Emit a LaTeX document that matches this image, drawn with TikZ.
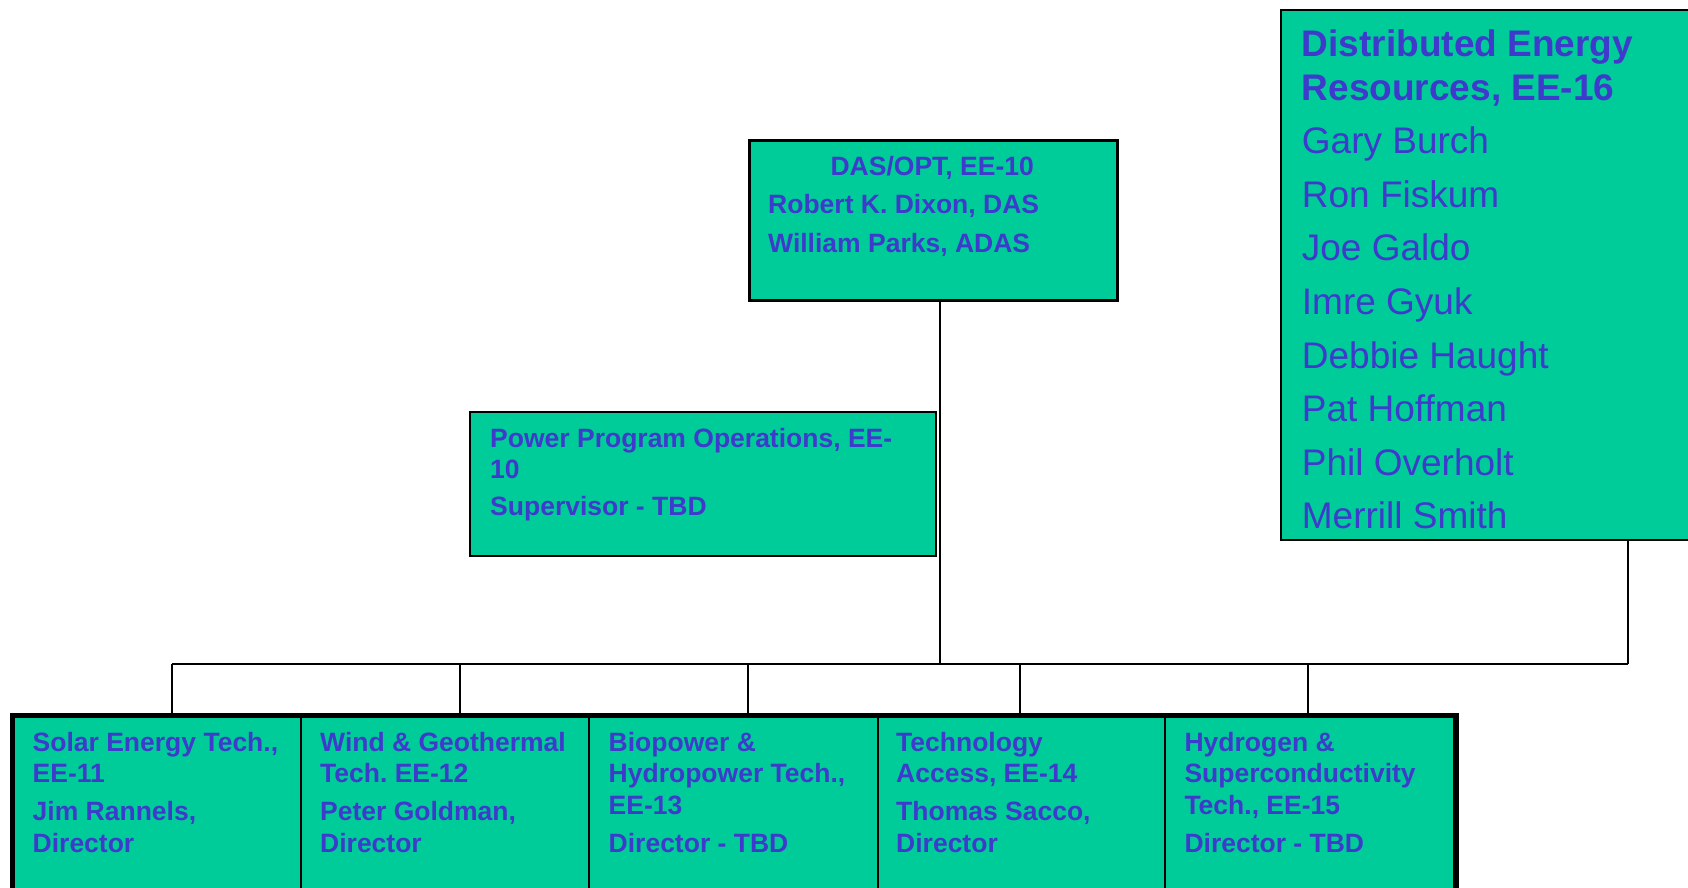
\documentclass[tikz,border=0pt]{standalone}
\usepackage{fontspec}
\setmainfont{Liberation Sans}
\definecolor{boxfill}{RGB}{0,204,153}
\definecolor{txtblue}{RGB}{61,58,204}
\begin{document}
\begin{tikzpicture}[x=1pt,y=-1pt,
  boxshape/.style={draw=black,fill=boxfill,rectangle,inner sep=0pt,anchor=north west},
  bodytext/.style={anchor=north west,inner sep=0pt,align=left,text=txtblue,
    font=\fontsize{26.5}{31.5}\selectfont\bfseries},
  dertext/.style={anchor=north west,inner sep=0pt,align=left,text=txtblue,
    font=\fontsize{37}{43.6}\selectfont},
  conn/.style={draw=black,line width=2pt}]
\useasboundingbox (0,0) rectangle (1688,888);

% top box
\node[boxshape,line width=2.7pt,minimum width=368pt,minimum height=160pt] (top) at (748,139) {};
\node[bodytext] (toptxt) at (768,156) {\makebox[328pt][c]{DAS/OPT, EE-10}\\[6.8pt]Robert K.\ Dixon, DAS\\[6.8pt]William Parks, ADAS};

% power program box
\node[boxshape,line width=2.3pt,minimum width=466pt,minimum height=144pt] (pp) at (469,411) {};
\node[bodytext] (pptxt) at (490,427.7) {Power Program Operations, EE-\\10\\[5.5pt]Supervisor - TBD};

% distributed energy box
\node[boxshape,line width=2pt,minimum width=420pt,minimum height=529.5pt] (der) at (1280,9) {};
\node[dertext] (dertxt) at (1301.7,29.4) {\textbf{Distributed Energy}\\\textbf{Resources, EE-16}\\[10pt]Gary Burch\\[10pt]Ron Fiskum\\[10pt]Joe Galdo\\[10pt]Imre Gyuk\\[10pt]Debbie Haught\\[10pt]Pat Hoffman\\[10pt]Phil Overholt\\[10pt]Merrill Smith};

% bottom boxes
\node[boxshape,line width=2pt,minimum width=287.5pt,minimum height=190pt] (b1) at (12.5,715.5) {};
\node[boxshape,line width=2pt,minimum width=288pt,minimum height=190pt] (b2) at (300,715.5) {};
\node[boxshape,line width=2pt,minimum width=288.5pt,minimum height=190pt] (b3) at (588,715.5) {};
\node[boxshape,line width=2pt,minimum width=287.5pt,minimum height=190pt] (b4) at (876.5,715.5) {};
\node[boxshape,line width=2pt,minimum width=290pt,minimum height=190pt] (b5) at (1164,715.5) {};
\draw[line width=5.6pt] (b1.south west) -- (b1.north west) -- (b5.north east) -- (b5.south east);

\node[bodytext] (t1) at (32.5,732) {Solar Energy Tech.,\\EE-11\\[6.5pt]Jim Rannels,\\Director};
\node[bodytext] (t2) at (320,732) {Wind \& Geothermal\\Tech.\ EE-12\\[6.5pt]Peter Goldman,\\Director};
\node[bodytext] (t3) at (608.5,732) {Biopower \&\\Hydropower Tech.,\\EE-13\\[6.5pt]Director - TBD};
\node[bodytext] (t4) at (896,732) {Technology\\Access, EE-14\\[6.5pt]Thomas Sacco,\\Director};
\node[bodytext] (t5) at (1184.3,732) {Hydrogen \&\\Superconductivity\\Tech., EE-15\\[6.5pt]Director - TBD};

% connectors
\coordinate (j) at (940,663.5);
\coordinate (busL) at (172,663.5);
\coordinate (busR) at (1628,663.5);
\coordinate (d2) at (460.4,663.5);
\coordinate (d3) at (748.4,663.5);
\coordinate (d4) at (1020,663.5);
\coordinate (d5) at (1308,663.5);
\draw[conn] (top.south -| j) -- (j);
\draw[conn] (der.south -| busR) -- (busR);
\draw[conn] (busL) -- (busR);
\draw[conn] (busL) -- (b1.north -| busL);
\draw[conn] (d2) -- (b2.north -| d2);
\draw[conn] (d3) -- (b3.north -| d3);
\draw[conn] (d4) -- (b4.north -| d4);
\draw[conn] (d5) -- (b5.north -| d5);
\end{tikzpicture}
\end{document}
